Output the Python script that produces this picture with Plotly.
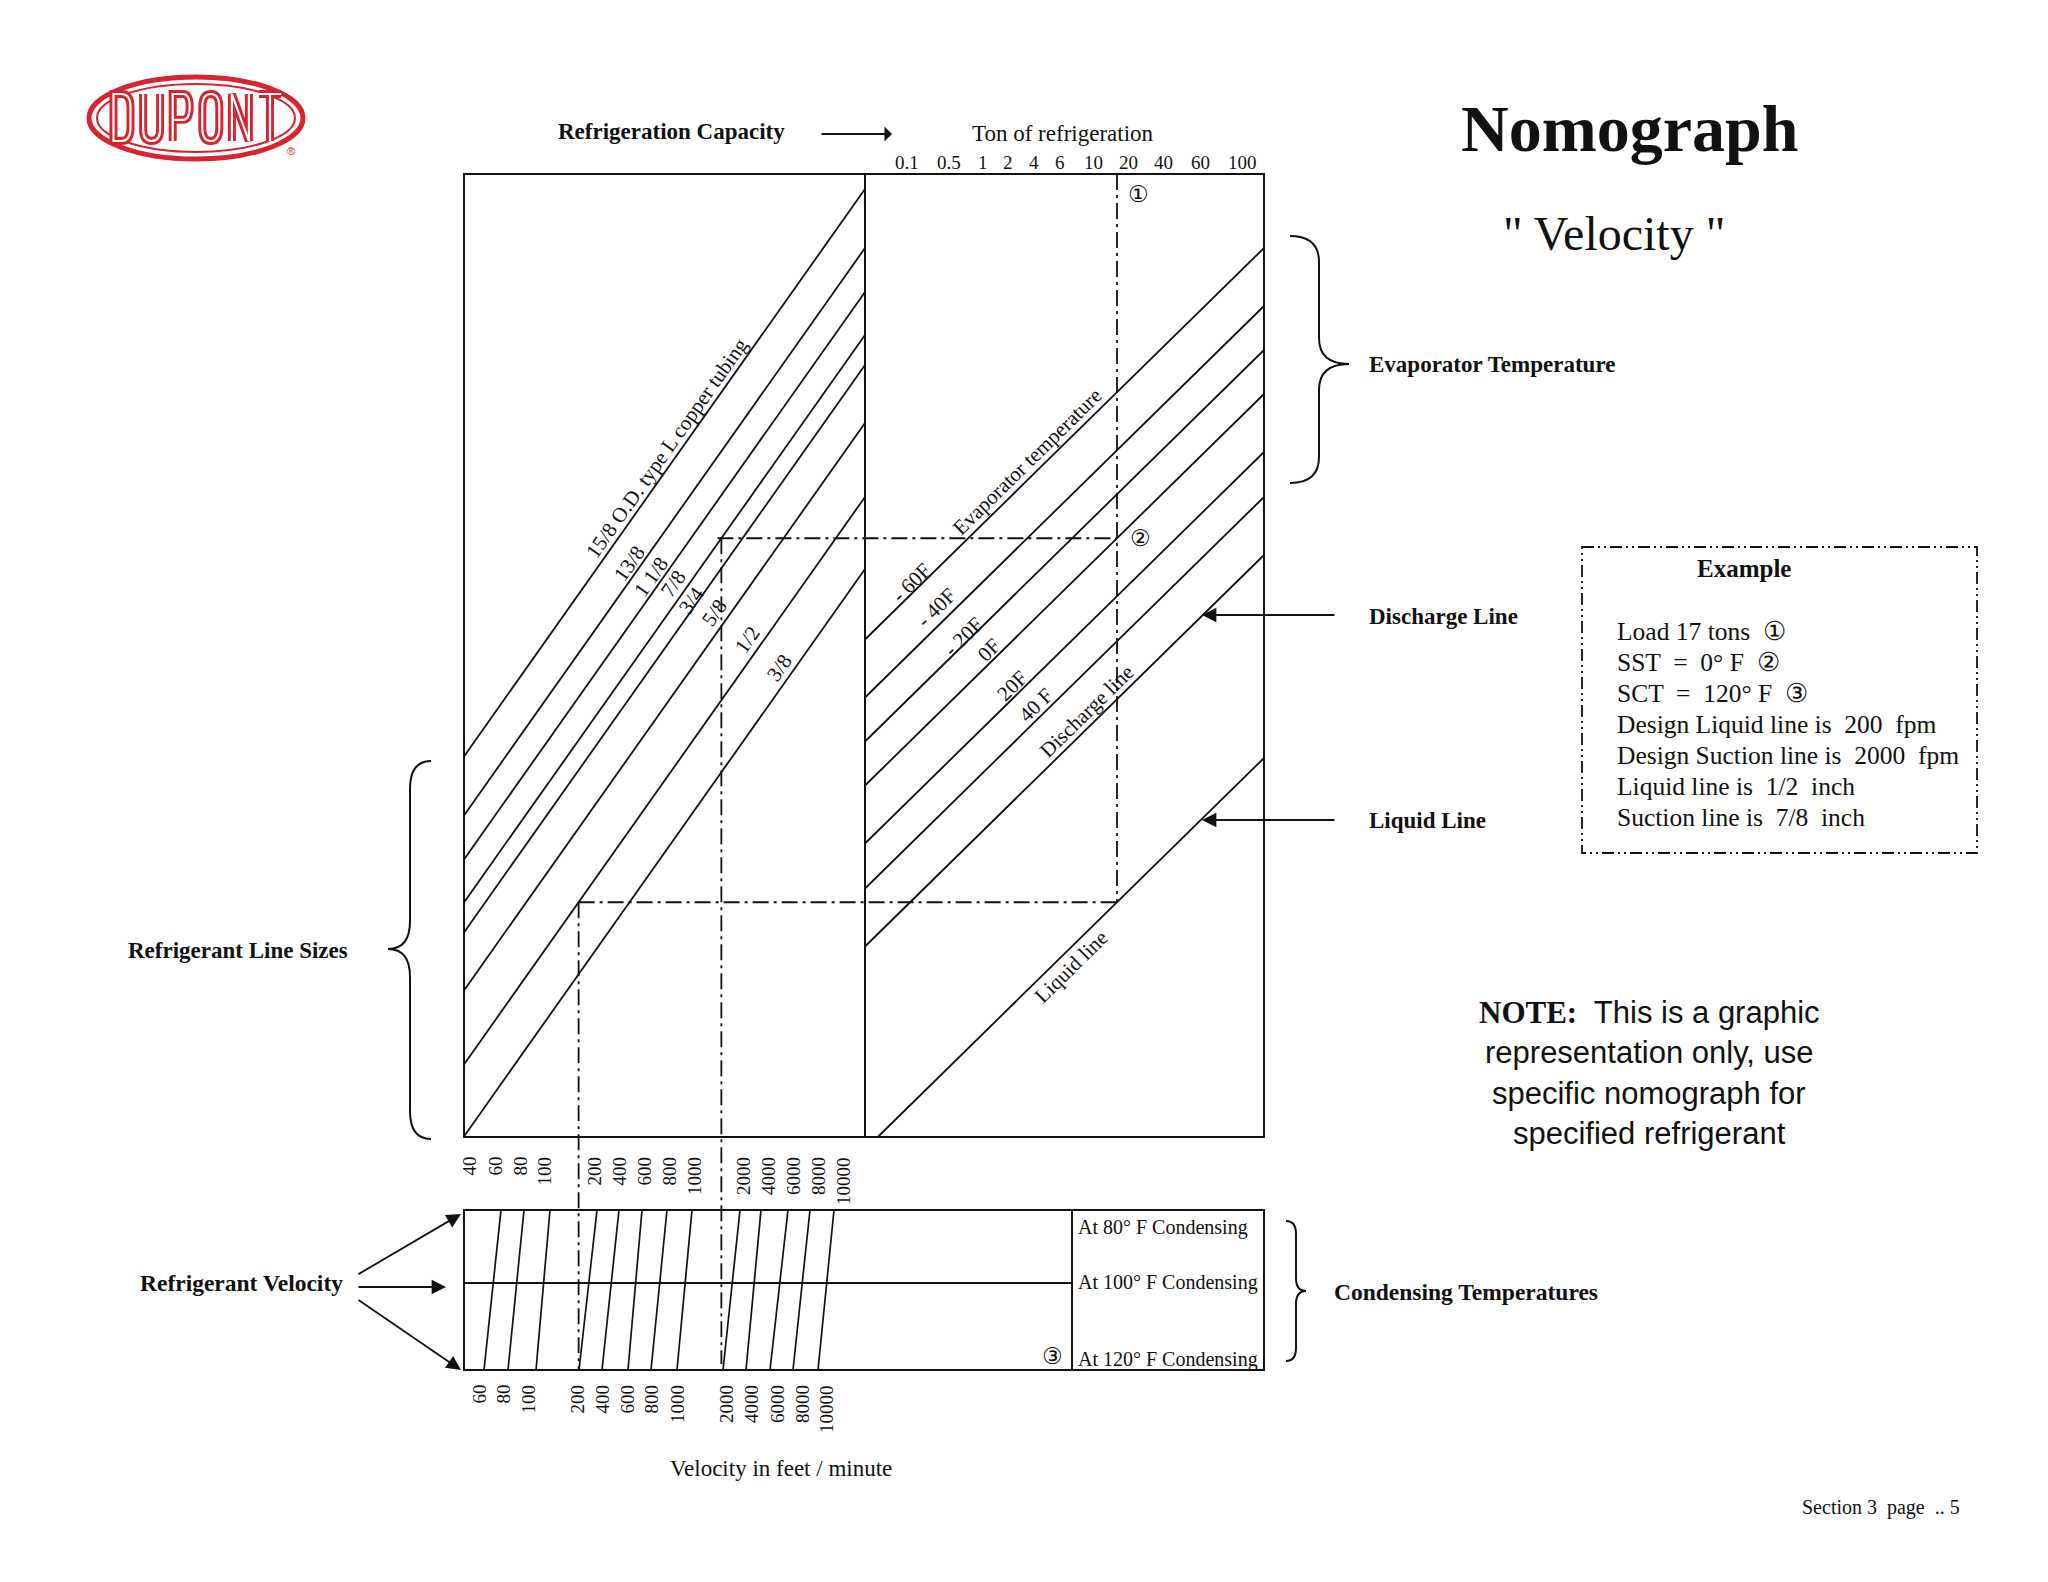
import math
import plotly.graph_objects as go

W, H = 2048, 1582
SERIF = "Liberation Serif, Times New Roman, DejaVu Serif, serif"
SANS = "Liberation Sans, Arial, DejaVu Sans, sans-serif"
SYM = "DejaVu Sans, Noto Sans CJK JP, sans-serif"
INK = "#111111"
RED = "#d9232e"

# ---------------- frame geometry (page pixels) ----------------
BOX_L, BOX_M, BOX_R, BOX_T, BOX_B = 464, 865, 1264, 174, 1137
VEL_T, VEL_MID, VEL_B, VEL_DIV = 1210, 1283, 1370, 1072

# ---------------- data ----------------
ton_labels = ["0.1", "0.5", "1", "2", "4", "6", "10", "20", "40", "60", "100"]
ton_x = [907, 949, 983, 1008, 1034, 1060, 1093, 1128, 1163, 1200, 1242]

pipe_sizes = ["15/8", "13/8", "1 1/8", "7/8", "3/4", "5/8", "1/2", "3/8"]
pipe_y_at_divider = [189, 248, 292, 335, 365, 423, 497, 569]
pipe_drop = 567.4          # rise of each pipe line across the left panel

evap_labels = ["- 60F", "- 40F", "- 20F", "0F", "20F", "40 F"]
evap_y_at_right = [248, 306, 350, 394, 452, 497]
discharge_y_at_right = 555
liquid_y_at_right = 758
evap_drop = 391.5          # rise of each temperature line across right panel

vel_top_labels = ["40", "60", "80", "100", "200", "400", "600", "800", "1000",
                  "2000", "4000", "6000", "8000", "10000"]
vel_top_label_x = [469, 495, 520, 544, 594, 619, 644, 669, 694, 743, 768, 793, 818, 843]
vel_values = ["60", "80", "100", "200", "400", "600", "800", "1000",
              "2000", "4000", "6000", "8000", "10000"]
vel_x_at_80F = [501, 524, 550, 597, 619, 642, 667, 692, 740, 761, 788, 810, 834]
vel_x_at_120F = [484, 508, 536, 579, 602, 628, 651, 677, 723, 746, 770, 793, 818]
vel_bottom_label_x = [479, 503, 528, 577, 602, 627, 651, 677, 726, 751, 777, 802, 826]

condensing = ["At 80° F Condensing", "At 100° F Condensing", "At 120° F Condensing"]

example_ton_x = 1117       # 17 tons
example_evap = "0F"
example_suction = "7/8"
example_liquid = "1/2"

example_lines = ["Load 17 tons  ①", "SST  =  0° F  ②", "SCT  =  120° F  ③",
                 "Design Liquid line is  200  fpm", "Design Suction line is  2000  fpm",
                 "Liquid line is  1/2  inch", "Suction line is  7/8  inch"]

# ---------------- helpers ----------------
lslope = pipe_drop / (BOX_M - BOX_L)
rslope = evap_drop / (BOX_R - BOX_M)

def pipe_y(i, x):
    return pipe_y_at_divider[i] + (BOX_M - x) * lslope

def pipe_x(i, y):
    return BOX_M - (y - pipe_y_at_divider[i]) / lslope

def temp_y(yr, x):
    return yr + (BOX_R - x) * rslope

def temp_x(yr, y):
    return BOX_R - (y - yr) / rslope

fig = go.Figure()

def add_lines(segs, width=1.8, dash="solid", color=INK):
    xs, ys = [], []
    for (x0, y0, x1, y1) in segs:
        xs += [x0, x1, None]
        ys += [y0, y1, None]
    fig.add_trace(go.Scatter(x=xs, y=ys, mode="lines", hoverinfo="skip", showlegend=False,
                             line=dict(color=color, width=width, dash=dash)))

# pipe size lines (left panel)
segs = []
for i in range(len(pipe_sizes)):
    yl = pipe_y(i, BOX_L)
    if yl <= BOX_B:
        segs.append((BOX_L, yl, BOX_M, pipe_y_at_divider[i]))
    else:
        segs.append((pipe_x(i, BOX_B), BOX_B, BOX_M, pipe_y_at_divider[i]))
add_lines(segs)

# evaporator / discharge / liquid lines (right panel)
segs = []
for yr in evap_y_at_right + [discharge_y_at_right, liquid_y_at_right]:
    yl = temp_y(yr, BOX_M)
    if yl <= BOX_B:
        segs.append((BOX_M, yl, BOX_R, yr))
    else:
        segs.append((temp_x(yr, BOX_B), BOX_B, BOX_R, yr))
add_lines(segs)

# velocity lines (lower box)
segs = [(a, VEL_T, b, VEL_B) for a, b in zip(vel_x_at_80F, vel_x_at_120F)]
add_lines(segs, width=1.7)

# example dash-dot path
evap_r = evap_y_at_right[evap_labels.index(example_evap)]
y_sst = temp_y(evap_r, example_ton_x)
x_suction = pipe_x(pipe_sizes.index(example_suction), y_sst)
y_liq = temp_y(liquid_y_at_right, example_ton_x)
x_liquid = pipe_x(pipe_sizes.index(example_liquid), y_liq)
dd = "16px,5px,3px,5px"
add_lines([(example_ton_x, BOX_T, example_ton_x, y_liq),
           (x_suction - 4, y_sst, example_ton_x, y_sst),
           (x_suction, y_sst, x_suction, VEL_B - 6),
           (x_liquid, y_liq, example_ton_x, y_liq),
           (x_liquid, y_liq, x_liquid, VEL_B)], width=1.8, dash=dd)

shapes = []
def rect(x0, y0, x1, y1, width=2.0, dash="solid", color=INK):
    shapes.append(dict(type="rect", xref="x", yref="y", x0=x0, y0=y0, x1=x1, y1=y1,
                       line=dict(color=color, width=width, dash=dash)))

def seg(x0, y0, x1, y1, width=2.0):
    shapes.append(dict(type="line", xref="x", yref="y", x0=x0, y0=y0, x1=x1, y1=y1,
                       line=dict(color=INK, width=width)))

rect(BOX_L, BOX_T, BOX_R, BOX_B)
seg(BOX_M, BOX_T, BOX_M, BOX_B)
rect(BOX_L, VEL_T, BOX_R, VEL_B)
seg(BOX_L, VEL_MID, VEL_DIV, VEL_MID)
seg(VEL_DIV, VEL_T, VEL_DIV, VEL_B)
rect(1582, 547, 1977, 853, width=1.8, dash="12px,4px,2px,4px,2px,4px")

# braces
def brace_right(x0, yt, yb, xv, xt, ym, r):
    return (f"M {x0},{yt} Q {xv},{yt} {xv},{yt+r} L {xv},{ym-r} Q {xv},{ym} {xt},{ym} "
            f"Q {xv},{ym} {xv},{ym+r} L {xv},{yb-r} Q {xv},{yb} {x0},{yb}")

for p in [brace_right(1290, 236, 483, 1319, 1349, 364, 26),
          brace_right(431, 761, 1139, 410, 388, 949, 28),
          brace_right(1286, 1221, 1361, 1296, 1306, 1291, 13)]:
    shapes.append(dict(type="path", xref="x", yref="y", path=p,
                       line=dict(color=INK, width=2.0)))

# ---------------- logo ----------------
shapes.append(dict(type="circle", xref="x", yref="y", x0=89, x1=303, y0=77, y1=159,
                   line=dict(color=RED, width=5)))
shapes.append(dict(type="circle", xref="x", yref="y", x0=97, x1=295, y0=84, y1=152,
                   line=dict(color=RED, width=2)))

LETTERS = {
    "D": "M 0,0 L 0,1 L 0.45,1 Q 1,1 1,0.72 L 1,0.28 Q 1,0 0.45,0 Z",
    "U": "M 0,0 L 0,0.75 Q 0,1 0.5,1 Q 1,1 1,0.75 L 1,0",
    "P": "M 0,1 L 0,0 L 0.6,0 Q 1,0 1,0.27 Q 1,0.55 0.6,0.55 L 0,0.55",
    "O": "M 0.5,0 Q 0,0 0,0.28 L 0,0.72 Q 0,1 0.5,1 Q 1,1 1,0.72 L 1,0.28 Q 1,0 0.5,0 Z",
    "N": "M 0,1 L 0,0 L 1,1 L 1,0",
    "T": "M -0.15,0 L 1.15,0 M 0.5,0 L 0.5,1",
}

def letter_path(ch, cx, top, w, h):
    out = []
    toks = LETTERS[ch].split()
    for t in toks:
        if "," in t:
            u, v = map(float, t.split(","))
            out.append(f"{cx + (u - 0.5) * w:.1f},{top + v * h:.1f}")
        else:
            out.append(t)
    return " ".join(out)

logo_word = "DUPONT"
for k, ch in enumerate(logo_word):
    cx = 122 + 29.6 * k
    p = letter_path(ch, cx, 94, 17, 47)
    shapes.append(dict(type="path", xref="x", yref="y", path=p, line=dict(color=RED, width=8)))
    shapes.append(dict(type="path", xref="x", yref="y", path=p, line=dict(color="white", width=2.2)))

ann = []
def txt(x, y, s, size, font=SERIF, bold=False, angle=0, xa="center", ya="middle", color=INK):
    if bold:
        s = "<b>" + s + "</b>"
    ann.append(dict(x=x, y=y, xref="x", yref="y", text=s, showarrow=False, textangle=angle,
                    xanchor=xa, yanchor=ya, font=dict(family=font, size=size, color=color)))

def arrow(xh, yh, xt, yt, head=2, size=1.6):
    ann.append(dict(x=xh, y=yh, ax=xt, ay=yt, xref="x", yref="y", axref="x", ayref="y",
                    text="", showarrow=True, arrowhead=head, arrowsize=size,
                    arrowwidth=1.8, arrowcolor=INK))

txt(291, 151, "®", 11, font=SANS, color=RED)

# titles
txt(1629, 128, "Nomograph", 66, bold=True)
txt(1614, 233, "\" Velocity \"", 48)

# capacity header
txt(671, 131, "Refrigeration Capacity", 23, bold=True)
arrow(892, 134, 820, 134, head=1, size=1.4)
txt(1063, 133, "Ton of refrigeration", 23)
for lab, x in zip(ton_labels, ton_x):
    txt(x, 162, lab, 19)

# line labels
la = -math.degrees(math.atan(lslope))
ra = -math.degrees(math.atan(rslope))
txt(667, 448, "15/8 O.D. type L copper tubing", 21, angle=la)
left_label_pos = [(629, 564), (651, 577), (673, 584), (691, 601), (714, 613), (747, 640), (779, 668)]
for lab, (x, y) in zip(pipe_sizes[1:], left_label_pos):
    txt(x, y, lab, 21, angle=la)
txt(1027, 462, "Evaporator temperature", 21, angle=ra)
right_label_pos = [(911, 583), (936, 608), (963, 637), (989, 650), (1012, 686), (1036, 705)]
for lab, (x, y) in zip(evap_labels, right_label_pos):
    txt(x, y, lab, 21, angle=ra)
txt(1087, 711, "Discharge line", 21, angle=ra)
txt(1071, 967, "Liquid line", 21, angle=ra)

# circled markers
txt(example_ton_x + 21, 194, "①", 23, font=SYM)
txt(example_ton_x + 23, y_sst, "②", 23, font=SYM)
txt(1052, 1356, "③", 23, font=SYM)

# velocity tick labels
for lab, x in zip(vel_top_labels, vel_top_label_x):
    txt(x, 1155, lab, 19, angle=-90, ya="top")
for lab, x in zip(vel_values, vel_bottom_label_x):
    txt(x, 1383, lab, 19, angle=-90, ya="top")
txt(781, 1468, "Velocity in feet / minute", 23)

for lab, y in zip(condensing, [1227, 1282, 1359]):
    txt(1076, y, lab, 20, xa="left")

# side labels
txt(1367, 364, "Evaporator Temperature", 23, bold=True, xa="left")
txt(1367, 616, "Discharge Line", 23, bold=True, xa="left")
txt(1367, 820, "Liquid Line", 23, bold=True, xa="left")
arrow(1202, 615, 1336, 615)
arrow(1202, 820, 1336, 820)
txt(238, 950, "Refrigerant Line Sizes", 23, bold=True)
txt(241, 1283, "Refrigerant Velocity", 23.5, bold=True)
arrow(461, 1214, 357, 1275)
arrow(446, 1287, 357, 1287)
arrow(461, 1370, 357, 1299)
txt(1332, 1292, "Condensing Temperatures", 23.5, bold=True, xa="left")

# example box text
txt(1744, 568, "Example", 25, bold=True)
for k, line in enumerate(example_lines):
    txt(1615, 631 + 31 * k, line, 25.5, xa="left")

# note
ann.append(dict(x=1649, y=1012, xref="x", yref="y", showarrow=False, xanchor="center", yanchor="middle",
                text="<b><span style='font-family:Liberation Serif'>NOTE:</span></b>  This is a graphic",
                font=dict(family=SANS, size=31, color=INK)))
for k, line in enumerate(["representation only, use", "specific nomograph for", "specified refrigerant"]):
    txt(1649, 1052.5 + 40.5 * k, line, 31, font=SANS)

txt(1962, 1507, "Section 3  page  .. 5", 20, xa="right")

fig.update_layout(
    width=W, height=H, margin=dict(l=0, r=0, t=0, b=0),
    paper_bgcolor="white", plot_bgcolor="white",
    xaxis=dict(range=[0, W], visible=False, fixedrange=True),
    yaxis=dict(range=[H, 0], visible=False, fixedrange=True),
    shapes=shapes, annotations=ann, showlegend=False,
)

fig.write_html("out.html", config={"displayModeBar": False, "staticPlot": True},
               post_script="document.body.style.margin='0';document.body.style.overflow='hidden';")
